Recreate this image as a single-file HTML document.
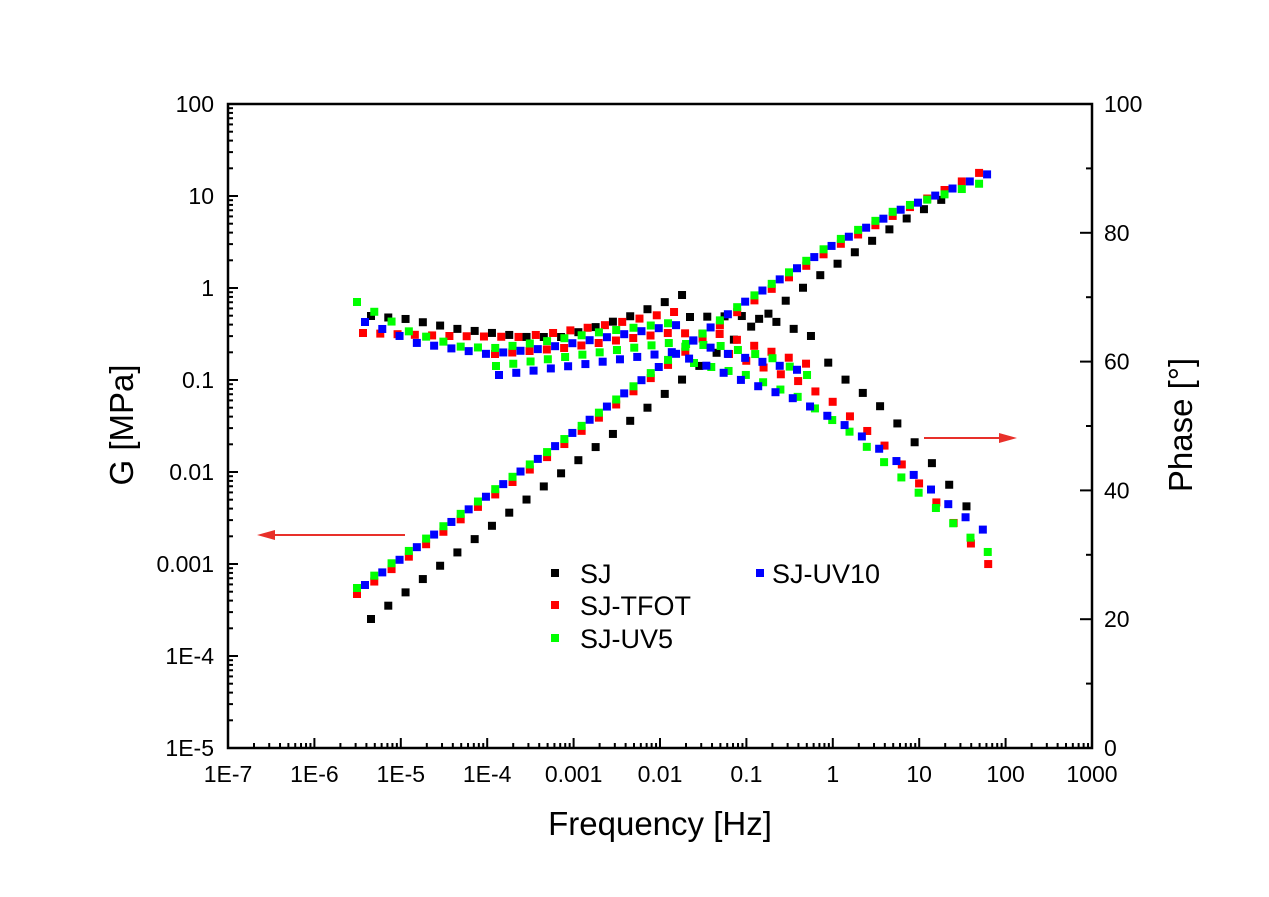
<!DOCTYPE html>
<html><head><meta charset="utf-8"><style>
html,body{margin:0;padding:0;background:#fff;}
svg{display:block;font-family:"Liberation Sans",Arial,sans-serif;}
</style></head><body>
<svg id="s" width="1269" height="897" xmlns="http://www.w3.org/2000/svg">
<rect width="1269" height="897" fill="#fff"/>
<g id="ax" stroke="#000" stroke-width="2.5" fill="none">
<rect x="228" y="104" width="864" height="644"/>
</g>
<g id="tk" stroke="#000" stroke-width="2"></g>
<g id="lb" font-size="23" fill="#000"></g>
<g id="pts"></g>
<text x="660" y="835" font-size="33" text-anchor="middle">Frequency [Hz]</text>
<text transform="translate(133,425) rotate(-90)" font-size="33" text-anchor="middle">G [MPa]</text>
<text transform="translate(1192,425) rotate(-90)" font-size="33" text-anchor="middle">Phase [°]</text>
<g stroke="#e8302a" stroke-width="2" fill="#e8302a">
<line x1="405" y1="535" x2="268" y2="535"/><polygon points="257,535 275,530 275,540" stroke="none"/>
<line x1="924" y1="438" x2="1004" y2="438"/><polygon points="1017,438 999,433 999,443" stroke="none"/>
</g>
<g font-size="27">
<rect x="551" y="569" width="8" height="8" fill="#000"/><text x="580" y="583">SJ</text>
<rect x="551" y="601" width="8" height="8" fill="#f00"/><text x="580" y="615">SJ-TFOT</text>
<rect x="551" y="634" width="8" height="8" fill="#0f0"/><text x="580" y="648">SJ-UV5</text>
<rect x="756" y="569" width="8" height="8" fill="#00f"/><text x="772" y="583">SJ-UV10</text>
</g>
</svg>
<script>
var NS="http://www.w3.org/2000/svg";
function el(p,t,a,txt){var e=document.createElementNS(NS,t);for(var k in a)e.setAttribute(k,a[k]);if(txt!==undefined)e.textContent=txt;document.getElementById(p).appendChild(e);}
var L=228,R=1092,T=104,B=748,dx=(R-L)/10,dy=(B-T)/7;
var xl=["1E-7","1E-6","1E-5","1E-4","0.001","0.01","0.1","1","10","100","1000"];
for(var i=0;i<=10;i++){var x=L+i*dx;
 el("tk","line",{x1:x,y1:B,x2:x,y2:B-10});
 el("lb","text",{x:x,y:B+34,"text-anchor":"middle"},xl[i]);
 if(i<10)for(var m=2;m<=9;m++){var xm=x+Math.log10(m)*dx;el("tk","line",{x1:xm,y1:B,x2:xm,y2:B-5});}}
var yl=["100","10","1","0.1","0.01","0.001","1E-4","1E-5"];
for(var i=0;i<=7;i++){var y=T+i*dy;
 el("tk","line",{x1:L,y1:y,x2:L+10,y2:y});
 el("lb","text",{x:L-14,y:y+8,"text-anchor":"end"},yl[i]);
 if(i<7)for(var m=2;m<=9;m++){var ym=y+dy-Math.log10(m)*dy;el("tk","line",{x1:L,y1:ym,x2:L+5,y2:ym});}}
var py=(B-T)/100;
for(var v=0;v<=100;v+=10){var y=B-v*py;var maj=v%20==0;
 el("tk","line",{x1:R,y1:y,x2:R-(maj?12:6),y2:y});
 if(maj)el("lb","text",{x:R+12,y:y+8},String(v));}
function interp(k,x){for(var i=0;i<k.length-1;i++){if(x<=k[i+1][0]){var a=k[i],b=k[i+1];return a[1]+(b[1]-a[1])*(x-a[0])/(b[0]-a[0]);}}return k[k.length-1][1];}
function ser(k,c){var x0=k[0][0],x1=k[k.length-1][0];for(var x=x0;x<=x1+1;x+=dx/5){el("pts","rect",{x:x-4,y:interp(k,x)-4,width:8,height:8,fill:c});}}
var S=[
["#000",[[371,619],[493,525],[655,402],[690,373],[740,335],[816,278],[902,221],[954,193]]],
["#000",[[371,316],[406,319],[458,329],[527,337],[562,337],[596,327],[631,316],[682,295]]],
["#000",[[690,317],[743,316],[777,322],[811,336],[833,370],[885,410],[919,447],[971,512]]],
["#f00",[[357,594],[550,455],[740,310],[833,248],[900,212],[989,168]]],
["#f00",[[363,333],[449,336],[518,337],[553,333],[606,325],[674,312]]],
["#f00",[[495,354],[564,348],[668,333],[720,334],[807,364]]],
["#f00",[[729,354],[798,381],[833,402],[885,446],[936,502],[989,565]]],
["#0f0",[[357,588],[550,450],[740,305],[833,243],[900,208],[988,181]]],
["#0f0",[[357,302],[410,332],[462,347],[497,348],[548,341],[601,332],[670,323]]],
["#0f0",[[496,366],[565,357],[669,343],[721,346],[772,358],[807,375]]],
["#0f0",[[694,363],[746,375],[798,397],[850,432],[902,478],[954,524],[989,553]]],
["#00f",[[365,585],[550,450],[740,305],[833,245],[900,210],[988,174]]],
["#00f",[[365,322],[417,343],[487,354],[539,349],[608,337],[677,325],[694,341],[724,353],[811,373]]],
["#00f",[[499,375],[586,364],[673,352],[746,382],[798,400],[850,428],[902,465],[954,509],[989,534]]]
];
S.forEach(function(s){ser(s[1],s[0]);});
</script>
</body></html>
